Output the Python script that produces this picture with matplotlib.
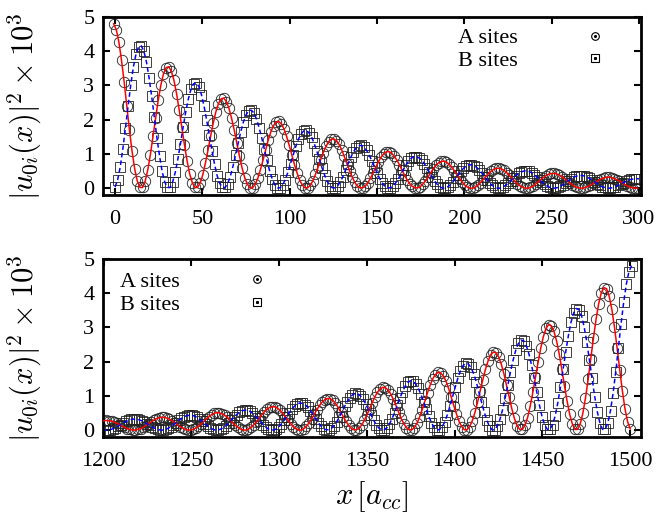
import numpy as np
import matplotlib
matplotlib.use("Agg")
import matplotlib.pyplot as plt
from matplotlib.lines import Line2D

plt.rcParams['font.family'] = ['Liberation Serif', 'DejaVu Serif']
plt.rcParams['mathtext.fontset'] = 'cm'

# |u_0i(x)|^2 x 10^3, one value per lattice site (1.5 a_cc apart)
a_sites = [
    4.80, 4.63, 4.26, 3.73, 3.10, 2.40, 1.71, 1.09, 0.57, 0.21, 0.02, 0.02, 0.20, 0.53, 0.98, 1.51, 2.05, 2.57, 3.01, 3.34, 3.52,
    3.55, 3.42, 3.15, 2.76, 2.29, 1.78, 1.27, 0.80, 0.42, 0.16, 0.02, 0.02, 0.15, 0.39, 0.73, 1.11, 1.52, 1.90, 2.23, 2.47, 2.61,
    2.63, 2.53, 2.33, 2.04, 1.70, 1.31, 0.94, 0.59, 0.31, 0.12, 0.01, 0.01, 0.11, 0.29, 0.54, 0.82, 1.12, 1.41, 1.65, 1.83, 1.93,
    1.95, 1.88, 1.73, 1.51, 1.25, 0.97, 0.69, 0.44, 0.23, 0.09, 0.01, 0.01, 0.08, 0.21, 0.40, 0.61, 0.83, 1.04, 1.22, 1.35, 1.43,
    1.44, 1.39, 1.28, 1.12, 0.93, 0.72, 0.51, 0.33, 0.17, 0.06, 0.01, 0.01, 0.06, 0.16, 0.29, 0.45, 0.61, 0.77, 0.90, 1.00, 1.06,
    1.07, 1.03, 0.94, 0.83, 0.69, 0.53, 0.38, 0.24, 0.13, 0.05, 0.01, 0.01, 0.04, 0.12, 0.22, 0.33, 0.45, 0.57, 0.67, 0.74, 0.78,
    0.79, 0.76, 0.70, 0.61, 0.51, 0.39, 0.28, 0.18, 0.09, 0.03, 0.00, 0.00, 0.03, 0.09, 0.16, 0.25, 0.34, 0.42, 0.49, 0.55, 0.58,
    0.58, 0.56, 0.52, 0.45, 0.38, 0.29, 0.21, 0.13, 0.07, 0.03, 0.00, 0.00, 0.02, 0.06, 0.12, 0.18, 0.25, 0.31, 0.37, 0.41, 0.43,
    0.43, 0.42, 0.38, 0.34, 0.28, 0.22, 0.15, 0.10, 0.05, 0.02, 0.00, 0.00, 0.02, 0.05, 0.09, 0.14, 0.18, 0.23, 0.27, 0.30, 0.32,
    0.32, 0.31, 0.28, 0.25, 0.21, 0.16, 0.11, 0.07, 0.04, 0.01, 0.00, 0.00,
]
b_sites = [
    0.03, 0.24, 0.62, 1.15, 1.76, 2.40, 3.01, 3.53, 3.91, 4.13, 4.16, 4.01, 3.69, 3.23, 2.68, 2.08, 1.48, 0.94, 0.49, 0.18, 0.02,
    0.02, 0.18, 0.46, 0.85, 1.30, 1.78, 2.23, 2.61, 2.89, 3.05, 3.08, 2.97, 2.73, 2.39, 1.98, 1.54, 1.10, 0.70, 0.36, 0.14, 0.02,
    0.02, 0.13, 0.34, 0.63, 0.97, 1.31, 1.65, 1.93, 2.14, 2.26, 2.28, 2.20, 2.02, 1.77, 1.47, 1.14, 0.81, 0.51, 0.27, 0.10, 0.01,
    0.01, 0.10, 0.25, 0.47, 0.71, 0.97, 1.22, 1.43, 1.58, 1.67, 1.69, 1.62, 1.50, 1.31, 1.09, 0.84, 0.60, 0.38, 0.20, 0.07, 0.01,
    0.01, 0.07, 0.19, 0.34, 0.53, 0.72, 0.90, 1.06, 1.17, 1.24, 1.25, 1.20, 1.11, 0.97, 0.80, 0.62, 0.45, 0.28, 0.15, 0.05, 0.01,
    0.01, 0.05, 0.14, 0.26, 0.39, 0.53, 0.67, 0.78, 0.87, 0.92, 0.92, 0.89, 0.82, 0.72, 0.60, 0.46, 0.33, 0.21, 0.11, 0.04, 0.00,
    0.00, 0.04, 0.10, 0.19, 0.29, 0.39, 0.49, 0.58, 0.64, 0.68, 0.68, 0.66, 0.61, 0.53, 0.44, 0.34, 0.24, 0.15, 0.08, 0.03, 0.00,
    0.00, 0.03, 0.08, 0.14, 0.21, 0.29, 0.37, 0.43, 0.47, 0.50, 0.51, 0.49, 0.45, 0.39, 0.33, 0.25, 0.18, 0.11, 0.06, 0.02, 0.00,
    0.00, 0.02, 0.06, 0.10, 0.16, 0.22, 0.27, 0.32, 0.35, 0.37, 0.37, 0.36, 0.33, 0.29, 0.24, 0.19, 0.13, 0.08, 0.04, 0.02, 0.00,
    0.00, 0.02, 0.04, 0.08, 0.12, 0.16, 0.20, 0.23, 0.26, 0.27, 0.28, 0.27,
]

# site positions along the tube (a_cc); the far end is the mirror image
x_site = 1.5 * np.arange(len(a_sites))
x_a = x_site - 0.75
x_b = x_site
tube_end = 1500

# bottom panel: A and B swap roles when mirrored about the far edge
x_a_far = tube_end - x_b
y_a_far = b_sites
x_b_far = tube_end - x_a
y_b_far = a_sites

fig = plt.figure(figsize=(6.63, 5.14), dpi=100)
ax1 = fig.add_axes([0.155, 0.6206, 0.8115, 0.3463])
ax2 = fig.add_axes([0.155, 0.150, 0.8115, 0.3463])

ylab = r'$|u_{0i}(x)|^2\times10^3$'

def draw(ax, xa, ya, xb, yb):
    ax.plot(xa, ya, ls='none', marker='o', ms=7.5, mfc='none', mec='#222222', mew=0.6, zorder=2)
    ax.plot(xb, yb, ls='none', marker='s', ms=6.5, mfc='none', mec='#222222', mew=0.6, zorder=2)
    ax.plot(xa, ya, color='#ff0000', lw=1.1, zorder=4)
    ax.plot(xb, yb, color='#0000ff', lw=1.1, ls=(0, (3, 2)), zorder=4)
    ax.set_ylim(-0.2, 5)
    ax.set_yticks([0, 1, 2, 3, 4, 5])
    ax.tick_params(direction='in', top=True, right=True, length=5, width=1.5,
                   labelsize=16)
    ax.tick_params(axis='x', pad=11)
    ax.tick_params(axis='y', pad=6)
    for sp in ax.spines.values():
        sp.set_linewidth(2)
    ax.set_ylabel(ylab, fontsize=22)
    ax.yaxis.set_label_coords(-0.11, 0.5)

    h_a = (Line2D([], [], ls='none', marker='o', ms=5.5, mfc='none', mec='k', mew=0.8),
           Line2D([], [], ls='none', marker='o', ms=1.2, color='k'))
    h_b = (Line2D([], [], ls='none', marker='s', ms=5.5, mfc='none', mec='k', mew=0.8),
           Line2D([], [], ls='none', marker='s', ms=1.2, color='k'))
    return h_a, h_b

h_a, h_b = draw(ax1, x_a, a_sites, x_b, b_sites)
ax1.set_xlim(-7, 301)
ax1.set_xticks([0, 50, 100, 150, 200, 250, 300])
ax1.legend([h_a, h_b], ['A sites', 'B sites'], loc='center left',
           bbox_to_anchor=(0.66, 0.817), frameon=False, markerfirst=False,
           fontsize=16, handlelength=1, handletextpad=3.0, labelspacing=0.1,
           borderpad=0, borderaxespad=0)

h_a, h_b = draw(ax2, x_a_far, y_a_far, x_b_far, y_b_far)
ax2.set_xlim(1199.5, 1506)
ax2.set_xticks([1200, 1250, 1300, 1350, 1400, 1450, 1500])
ax2.legend([h_a, h_b], ['A sites', 'B sites'], loc='center left',
           bbox_to_anchor=(0.0316, 0.809), frameon=False, markerfirst=False,
           fontsize=16, handlelength=1, handletextpad=3.0, labelspacing=0.1,
           borderpad=0, borderaxespad=0)
ax2.set_xlabel(r'$x\,[a_{cc}]$', fontsize=22)
ax2.xaxis.set_label_coords(0.5, -0.235)

fig.savefig('out.png', dpi=100)
